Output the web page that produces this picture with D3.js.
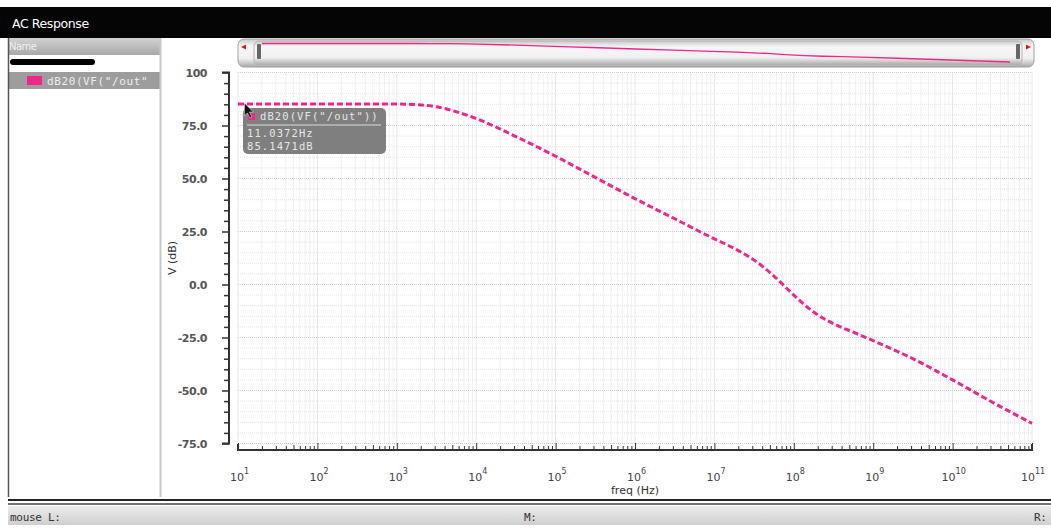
<!DOCTYPE html>
<html>
<head>
<meta charset="utf-8">
<script src="https://cdn.jsdelivr.net/npm/d3@7"></script>
<style>
  html, body { margin: 0; padding: 0; background: #fff; }
  svg { display: block; font-family: "DejaVu Sans", Verdana, sans-serif; }
</style>
</head>
<body>
<svg id="chart" width="1051" height="529"></svg>
<script>
// AC sweep of dB20(VF("/out")) — frequency in Hz, magnitude in dB
const freqHz = [1e1, 1.10372e1, 1e2, 1e3, 1.78e3, 3.16e3, 5.62e3, 1e4, 3.16e4, 1e5, 3.16e5,
                1e6, 3.16e6, 1e7, 1.78e7, 3.16e7, 5.62e7, 1e8, 1.78e8, 3.16e8, 5.62e8,
                1e9, 3.16e9, 1e10, 3.16e10, 1e11];
const magDb  = [85.1471, 85.1471, 85.147, 85.1, 84.8, 83.8, 81.5, 78.3, 69.8, 60.5, 50.5,
                40.5, 31, 21.5, 17, 11.5, 4, -5, -13, -18.5, -22.5,
                -26.5, -35, -45, -55.5, -65.5];

// marker readout
const markerFreq = [11.0372];
const markerDb   = [85.1471];
const traceName  = 'dB20(VF("/out"))';

const yTickValues = [100, 75, 50, 25, 0, -25, -50, -75];
const xDecades    = [1, 2, 3, 4, 5, 6, 7, 8, 9, 10, 11];

const traceColor = "#f2268a";
const mono = "DejaVu Sans Mono, monospace";
const svg = d3.select("#chart");

// ---------- window chrome ----------
svg.append("rect").attr("x", 0).attr("y", 0).attr("width", 1051).attr("height", 529).attr("fill", "#fff");
svg.append("rect").attr("x", 0).attr("y", 7).attr("width", 1051).attr("height", 31).attr("fill", "#050505");
svg.append("text").attr("x", 12).attr("y", 28).attr("fill", "#fff")
  .attr("font-size", 12.5).attr("letter-spacing", -0.4).text("AC Response");

const defs = svg.append("defs");
function vgrad(id, stops) {
  const g = defs.append("linearGradient").attr("id", id).attr("x1", 0).attr("y1", 0).attr("x2", 0).attr("y2", 1);
  stops.forEach(([o, c]) => g.append("stop").attr("offset", o).attr("stop-color", c));
}
vgrad("hdr", [[0, "#d2d2d2"], [1, "#a9a9a9"]]);
vgrad("scroll", [[0, "#c9c9c9"], [0.25, "#f7f7f7"], [0.7, "#f0f0f0"], [1, "#a8a8a8"]]);
vgrad("status", [[0, "#ececec"], [1, "#cfcfcf"]]);

// left list panel
svg.append("rect").attr("x", 8).attr("y", 38).attr("width", 152).attr("height", 17).attr("fill", "url(#hdr)");
svg.append("text").attr("x", 9).attr("y", 50).attr("fill", "#f0f0f0").attr("font-size", 10)
  .attr("letter-spacing", -0.5).text("Name");
svg.append("rect").attr("x", 10).attr("y", 59).attr("width", 85).attr("height", 6).attr("rx", 3).attr("fill", "#000");
svg.append("rect").attr("x", 8).attr("y", 72).attr("width", 152).attr("height", 17).attr("fill", "#9d9d9d");
svg.append("rect").attr("x", 27).attr("y", 76).attr("width", 15).attr("height", 9).attr("fill", traceColor);
svg.append("text").attr("x", 47).attr("y", 85).attr("fill", "#eeeeee").attr("font-size", 11)
  .attr("font-family", mono).attr("letter-spacing", 0.6).text('dB20(VF("/out"');
svg.append("line").attr("x1", 8.5).attr("x2", 8.5).attr("y1", 38).attr("y2", 497).attr("stroke", "#555").attr("stroke-width", 1.5);
svg.append("line").attr("x1", 160.5).attr("x2", 160.5).attr("y1", 38).attr("y2", 497).attr("stroke", "#c8c8c8").attr("stroke-width", 2);

// bottom separator and status bar
svg.append("line").attr("x1", 8).attr("x2", 1051).attr("y1", 500).attr("y2", 500).attr("stroke", "#222").attr("stroke-width", 2);
svg.append("line").attr("x1", 8).attr("x2", 1051).attr("y1", 504).attr("y2", 504).attr("stroke", "#444").attr("stroke-width", 1.5);
svg.append("rect").attr("x", 8).attr("y", 506).attr("width", 1043).attr("height", 19).attr("fill", "url(#status)");
[["mouse L:", 10], ["M:", 524], ["R:", 1034]].forEach(([t, xx]) => {
  svg.append("text").attr("x", xx).attr("y", 521).attr("font-family", mono).attr("font-size", 11)
    .attr("fill", "#333").attr("letter-spacing", -0.3).text(t);
});

// ---------- plot scales ----------
const x = d3.scaleLog().domain([1e1, 1e11]).range([238, 1032]);
const y = d3.scaleLinear().domain([-75, 100]).range([443.5, 72.5]);

const isDecade = d => Math.abs(Math.log10(d) - Math.round(Math.log10(d))) < 1e-9;

// grid
const gridG = svg.append("g");
const minorX = [];
for (let d = 1; d < 11; d++) for (let m = 1; m <= 9; m++) minorX.push(m * Math.pow(10, d));
minorX.push(1e11);
gridG.selectAll("line.vx").data(minorX).join("line")
  .attr("x1", d => x(d)).attr("x2", d => x(d)).attr("y1", y(100)).attr("y2", y(-75))
  .attr("stroke", d => isDecade(d) ? "#cfcfcf" : "#e2e2e2")
  .attr("stroke-width", 1).attr("stroke-dasharray", "1,1");
const minorY = d3.range(-75, 100.1, 5);
gridG.selectAll("line.hy").data(minorY).join("line")
  .attr("x1", x(1e1)).attr("x2", x(1e11)).attr("y1", d => y(d)).attr("y2", d => y(d))
  .attr("stroke", d => d % 25 === 0 ? "#cfcfcf" : "#e4e4e4")
  .attr("stroke-width", 1).attr("stroke-dasharray", "1,1");

// y axis
const yAxis = d3.axisLeft(y).tickValues(minorY).tickSize(5).tickFormat("");
const yg = svg.append("g").attr("transform", "translate(229,0)").call(yAxis);
yg.select(".domain").attr("stroke", "#333").attr("stroke-width", 2).attr("d", `M-7,${y(100)}H0V${y(-75)}H-7`);
yg.selectAll(".tick line").attr("stroke", "#333").attr("stroke-width", 1.5)
  .attr("x2", d => d % 25 === 0 ? -7 : -5);
svg.append("g").selectAll("text").data(yTickValues).join("text")
  .attr("x", 207).attr("y", d => y(d) + 4).attr("text-anchor", "end")
  .attr("font-size", 11).attr("font-weight", "bold").attr("fill", "#555").attr("letter-spacing", -0.5)
  .text(d => d === 100 ? "100" : d.toFixed(1));

svg.append("text").attr("transform", `translate(176,${y(12.5)}) rotate(-90)`)
  .attr("text-anchor", "middle").attr("font-size", 11).attr("fill", "#333").text("V (dB)");

// x axis
const xAxis = d3.axisTop(x).tickValues(minorX).tickSize(5).tickFormat("");
const xg = svg.append("g").attr("transform", "translate(0,450)").call(xAxis);
xg.select(".domain").attr("stroke", "#333").attr("stroke-width", 2).attr("d", `M${x(1e1)},-6V0H${x(1e11)}V-6`);
xg.selectAll(".tick line").attr("stroke", "#333").attr("stroke-width", 1)
  .attr("y2", d => isDecade(d) ? -7 : (Math.round(d / Math.pow(10, Math.floor(Math.log10(d) + 1e-9))) === 5 ? -5 : -4));

const xl = svg.append("g").selectAll("g").data(xDecades).join("g")
  .attr("transform", d => `translate(${x(Math.pow(10, d))},0)`);
xl.append("text").attr("x", d => d >= 10 ? -4 : -1).attr("y", 481).attr("text-anchor", "middle")
  .attr("font-size", 11).attr("fill", "#444").text("10");
xl.append("text").attr("x", d => d >= 10 ? 3 : 6).attr("y", 474).attr("text-anchor", "start")
  .attr("font-size", 8).attr("fill", "#444").text(d => d);
svg.append("text").attr("x", x(1e6)).attr("y", 494).attr("text-anchor", "middle")
  .attr("font-size", 11).attr("fill", "#333").text("freq (Hz)");

// trace
const pts = freqHz.map((f, i) => [f, magDb[i]]);
const line = d3.line().x(d => x(d[0])).y(d => y(d[1])).curve(d3.curveMonotoneX);
svg.append("path").attr("d", line(pts)).attr("fill", "none").attr("stroke", traceColor)
  .attr("stroke-width", 3).attr("stroke-dasharray", "6,3");

// ---------- overview scroll bar ----------
svg.append("rect").attr("x", 238).attr("y", 39).attr("width", 796).attr("height", 28).attr("rx", 6)
  .attr("fill", "url(#scroll)").attr("stroke", "#a0a0a0");
svg.append("rect").attr("x", 254).attr("y", 41).attr("width", 768).attr("height", 24).attr("rx", 5)
  .attr("fill", "url(#scroll)").attr("stroke", "#b5b5b5");
[[244, 1], [1028, -1]].forEach(([cx, dir]) => {
  svg.append("path").attr("d", `M${cx - 3 * dir},47 L${cx + 2 * dir},44.5 L${cx + 2 * dir},49.5 Z`).attr("fill", "#e01818");
});
[257, 1016].forEach(hx => {
  svg.append("rect").attr("x", hx).attr("y", 44).attr("width", 4).attr("height", 15).attr("rx", 1).attr("fill", "#666");
});
const ox = d3.scaleLog().domain([1e1, 1e11]).range([262, 1010]);
const oy = d3.scaleLinear().domain(d3.extent(magDb)).range([62, 43.5]);
const overview = d3.line().x(d => ox(d[0])).y(d => oy(d[1]));
svg.append("path").attr("d", overview(pts)).attr("fill", "none").attr("stroke", traceColor).attr("stroke-width", 1.3);

// ---------- marker readout ----------
const mx = x(markerFreq[0]), my = y(markerDb[0]);
const tip = svg.append("g");
tip.append("rect").attr("x", 243).attr("y", 108).attr("width", 143).attr("height", 46).attr("rx", 5)
  .attr("fill", "#787878").attr("opacity", 0.95);
tip.append("rect").attr("x", 248).attr("y", 113).attr("width", 7).attr("height", 7).attr("fill", traceColor);
const tipFont = t => t.attr("font-family", mono).attr("font-size", 10.5).attr("fill", "#e6e6e6").attr("letter-spacing", 1.1);
tipFont(tip.append("text").attr("x", 260).attr("y", 120).text(traceName));
tip.append("line").attr("x1", 247).attr("x2", 381).attr("y1", 125).attr("y2", 125).attr("stroke", "#dcdcdc");
tipFont(tip.append("text").attr("x", 247).attr("y", 137).text(markerFreq[0].toFixed(4) + "Hz"));
tipFont(tip.append("text").attr("x", 247).attr("y", 150).text(markerDb[0].toFixed(4) + "dB"));

// mouse pointer at the marker position
svg.append("path")
  .attr("d", `M${mx},${my} l0,13 l3,-3 l2.5,5 l2,-1 l-2.5,-5 l4,0 Z`)
  .attr("transform", `translate(3,-1)`)
  .attr("fill", "#111").attr("stroke", "#fff").attr("stroke-width", 0.5);
</script>
</body>
</html>
